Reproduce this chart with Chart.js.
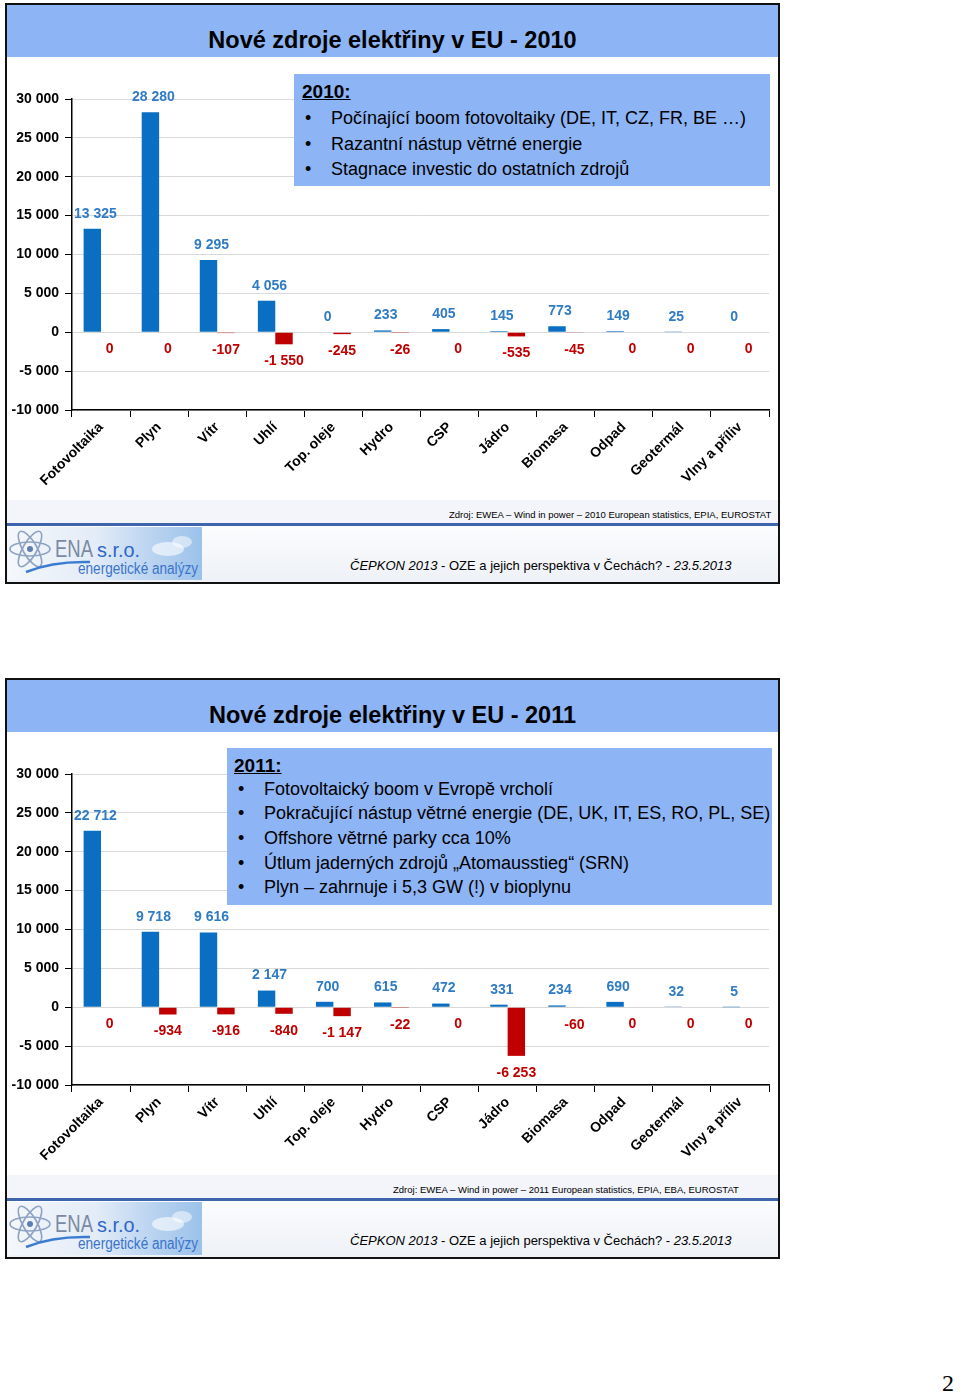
<!DOCTYPE html>
<html>
<head>
<meta charset="utf-8">
<script src="https://cdn.jsdelivr.net/npm/chart.js@4.4.1/dist/chart.umd.min.js"></script>
<style>
  html, body { margin: 0; padding: 0; background: #fff; }
  body { width: 960px; height: 1394px; position: relative; overflow: hidden; font-family: "Liberation Sans", Arial, sans-serif; }
  .slide { position: absolute; left: 0; width: 960px; height: 600px; }
  .frame { position: absolute; left: 5px; top: 3px; width: 775px; height: 581px; border: 2px solid #111; box-sizing: border-box; background: #fff; }
  .titlebar { position: absolute; left: 7px; top: 5px; width: 771px; height: 52px; background: #8db4f5; }
  .title { position: absolute; left: 7px; top: 27px; width: 771px; text-align: center; font-weight: bold; font-size: 23.5px; color: #000; }
  canvas { position: absolute; left: 6px; top: 58px; }
  .box { position: absolute; background: #8db4f5; color: #000; }
  .box .yr { position: absolute; font-weight: bold; font-size: 19px; text-decoration: underline; }
  .box .li { position: absolute; font-size: 18px; white-space: nowrap; }
  .box .li::before { content: "\2022"; position: absolute; left: -26px; }
  .band { position: absolute; left: 7px; top: 500px; width: 771px; height: 23px; background: #f3f5fa; }
  .src { position: absolute; top: 509px; font-size: 9.5px; color: #000; white-space: nowrap; }
  .rule { position: absolute; left: 7px; top: 523px; width: 771px; height: 3px; background: #3d64ad; }
  .foot { position: absolute; left: 7px; top: 526px; width: 771px; height: 56px; background: linear-gradient(#fbfcfe, #eef1f6); }
  .foottxt { position: absolute; left: 350px; top: 558px; font-size: 13px; color: #000; white-space: nowrap; }
  .logo { position: absolute; left: 8px; top: 527px; width: 194px; height: 53px; overflow: hidden;
          background: linear-gradient(90deg, #f4f7fb 0%, #e3ecf7 45%, #b9d3f0 75%, #9cc2ea 100%); }
  .pagenum { position: absolute; left: 942px; top: 1370px; font-family: "Liberation Serif", serif; font-size: 24px; }
</style>
</head>
<body>

<div class="slide" id="s1" style="top:0">
  <div class="frame"></div>
  <div class="titlebar"></div>
  <div class="title">Nové zdroje elektřiny v EU - 2010</div>
  <canvas id="c1" width="772" height="442"></canvas>
  <div class="box" style="left:294px;top:74px;width:476px;height:112px">
    <div class="yr" style="left:8px;top:7px">2010:</div>
    <div class="li" style="left:37px;top:34px">Počínající boom fotovoltaiky (DE, IT, CZ, FR, BE …)</div>
    <div class="li" style="left:37px;top:60px">Razantní nástup větrné energie</div>
    <div class="li" style="left:37px;top:85px">Stagnace investic do ostatních zdrojů</div>
  </div>
  <div class="band"></div>
  <div class="src" style="left:449px">Zdroj: EWEA – Wind in power – 2010 European statistics, EPIA, EUROSTAT</div>
  <div class="rule"></div>
  <div class="foot"></div>
  <div class="logo"></div>
  <div class="foottxt"><i>ČEPKON 2013</i> - OZE a jejich perspektiva v Čechách? - <i>23.5.2013</i></div>
</div>

<div class="slide" id="s2" style="top:675px">
  <div class="frame"></div>
  <div class="titlebar"></div>
  <div class="title">Nové zdroje elektřiny v EU - 2011</div>
  <canvas id="c2" width="772" height="442"></canvas>
  <div class="box" style="left:227px;top:73px;width:545px;height:157px">
    <div class="yr" style="left:7px;top:7px">2011:</div>
    <div class="li" style="left:37px;top:31px">Fotovoltaický boom v Evropě vrcholí</div>
    <div class="li" style="left:37px;top:55px">Pokračující nástup větrné energie (DE, UK, IT, ES, RO, PL, SE)</div>
    <div class="li" style="left:37px;top:80px">Offshore větrné parky cca 10%</div>
    <div class="li" style="left:37px;top:105px">Útlum jaderných zdrojů „Atomausstieg“ (SRN)</div>
    <div class="li" style="left:37px;top:129px">Plyn – zahrnuje i 5,3 GW (!) v bioplynu</div>
  </div>
  <div class="band"></div>
  <div class="src" style="left:393px">Zdroj: EWEA – Wind in power – 2011 European statistics, EPIA, EBA, EUROSTAT</div>
  <div class="rule"></div>
  <div class="foot"></div>
  <div class="logo"></div>
  <div class="foottxt"><i>ČEPKON 2013</i> - OZE a jejich perspektiva v Čechách? - <i>23.5.2013</i></div>
</div>

<div class="pagenum">2</div>

<script>
// zdroje
const categories = ['Fotovoltaika', 'Plyn', 'Vítr', 'Uhlí', 'Top. oleje', 'Hydro', 'CSP', 'Jádro', 'Biomasa', 'Odpad', 'Geotermál', 'Vlny a příliv'];

// 2010 (MW)
const new2010 = [13325, 28280, 9295, 4056, 0, 233, 405, 145, 773, 149, 25, 0];
const closed2010 = [0, 0, -107, -1550, -245, -26, 0, -535, -45, 0, 0, 0];

// 2011 (MW)
const new2011 = [22712, 9718, 9616, 2147, 700, 615, 472, 331, 234, 690, 32, 5];
const closed2011 = [0, -934, -916, -840, -1147, -22, 0, -6253, -60, 0, 0, 0];

const yTicks = [-10000, -5000, 0, 5000, 10000, 15000, 20000, 25000, 30000];

const BLUE = '#0a6fc2';
const BLUE_TXT = '#2f7bc4';
const RED = '#c00000';

function fmt(v) {
    return String(v).replace(/\B(?=(\d{3})+(?!\d))/g, ' ');
}

// popisky hodnot nad / pod sloupci
const valueLabels = {
    id: 'valueLabels',
    afterDatasetsDraw(chart) {
        const c = chart.ctx;
        c.save();
        c.font = 'bold 14px "Liberation Sans", Arial, sans-serif';
        c.textAlign = 'center';
        c.textBaseline = 'middle';
        chart.data.datasets.forEach((ds, i) => {
            const meta = chart.getDatasetMeta(i);
            meta.data.forEach((bar, j) => {
                const v = ds.data[j];
                if (i === 0) {
                    c.fillStyle = BLUE_TXT;
                    c.fillText(fmt(v), bar.x + 3, Math.min(bar.y, bar.base) - 15);
                } else {
                    c.fillStyle = RED;
                    c.fillText(fmt(v), bar.x, Math.max(bar.y, bar.base) + 17);
                }
            });
        });
        c.restore();
    }
};

function makeChart(id, newVals, closedVals) {
    const ctx = document.getElementById(id).getContext('2d');
    return new Chart(ctx, {
        type: 'bar',
        data: {
            labels: categories,
            datasets: [{
                label: 'Nové',
                data: newVals,
                backgroundColor: BLUE,
                categoryPercentage: 0.6,
                barPercentage: 1.0
            }, {
                label: 'Odstavené',
                data: closedVals,
                backgroundColor: RED,
                categoryPercentage: 0.6,
                barPercentage: 1.0
            }]
        },
        options: {
            responsive: false,
            animation: false,
            devicePixelRatio: 1,
            layout: { padding: { top: 41, right: 9, left: 0, bottom: 0 } },
            plugins: {
                legend: { display: false },
                tooltip: { enabled: false }
            },
            scales: {
                x: {
                    grid: { offset: true, drawOnChartArea: false, tickLength: 7, tickColor: '#000' },
                    border: { color: '#000', width: 1.5 },
                    ticks: {
                        maxRotation: 45, minRotation: 45, padding: 2,
                        color: '#000',
                        font: { family: '"Liberation Sans", Arial, sans-serif', size: 14, weight: 'bold' }
                    },
                    afterFit(scale) { scale.height = 90; }
                },
                y: {
                    min: -10000, max: 30000,
                    afterBuildTicks(scale) { scale.ticks = yTicks.map(v => ({ value: v })); },
                    grid: { color: '#d9d9d9', lineWidth: 1, tickLength: 7, tickColor: '#000' },
                    border: { color: '#000', width: 1.5 },
                    ticks: {
                        padding: 6, color: '#000',
                        font: { family: '"Liberation Sans", Arial, sans-serif', size: 14, weight: 'bold' },
                        callback: v => fmt(v)
                    },
                    afterFit(scale) { scale.width = 66; }
                }
            }
        },
        plugins: [valueLabels]
    });
}

makeChart('c1', new2010, closed2010);
makeChart('c2', new2011, closed2011);

// logo ENA (jednoduchá kresba)
document.querySelectorAll('.logo').forEach(el => {
    el.innerHTML =
        '<svg width="194" height="53" xmlns="http://www.w3.org/2000/svg">' +
        '<ellipse cx="160" cy="22" rx="16" ry="7" fill="#ffffff" opacity="0.6"/>' +
        '<ellipse cx="174" cy="15" rx="10" ry="6" fill="#ffffff" opacity="0.5"/>' +
        '<g fill="none" stroke="#8ea2c2" stroke-width="1.6">' +
        '<ellipse cx="22" cy="22" rx="20" ry="7"/>' +
        '<ellipse cx="22" cy="22" rx="20" ry="7" transform="rotate(60 22 22)"/>' +
        '<ellipse cx="22" cy="22" rx="20" ry="7" transform="rotate(-60 22 22)"/>' +
        '</g>' +
        '<circle cx="22" cy="22" r="3" fill="#5d7fb0"/>' +
        '<path d="M18 45 Q45 34 82 35" stroke="#3b7bd0" stroke-width="2.5" fill="none"/>' +
        '<text x="47" y="30" textLength="38" lengthAdjust="spacingAndGlyphs" font-family="Liberation Sans, Arial" font-size="23" fill="#7a8aa3">ENA</text>' +
        '<text x="89" y="30" textLength="43" lengthAdjust="spacingAndGlyphs" font-family="Liberation Sans, Arial" font-size="21" fill="#2d66c8">s.r.o.</text>' +
        '<text x="70" y="47" textLength="120" lengthAdjust="spacingAndGlyphs" font-family="Liberation Sans, Arial" font-size="16" fill="#3a73cc">energetické analýzy</text>' +
        '</svg>';
});
</script>
</body>
</html>
